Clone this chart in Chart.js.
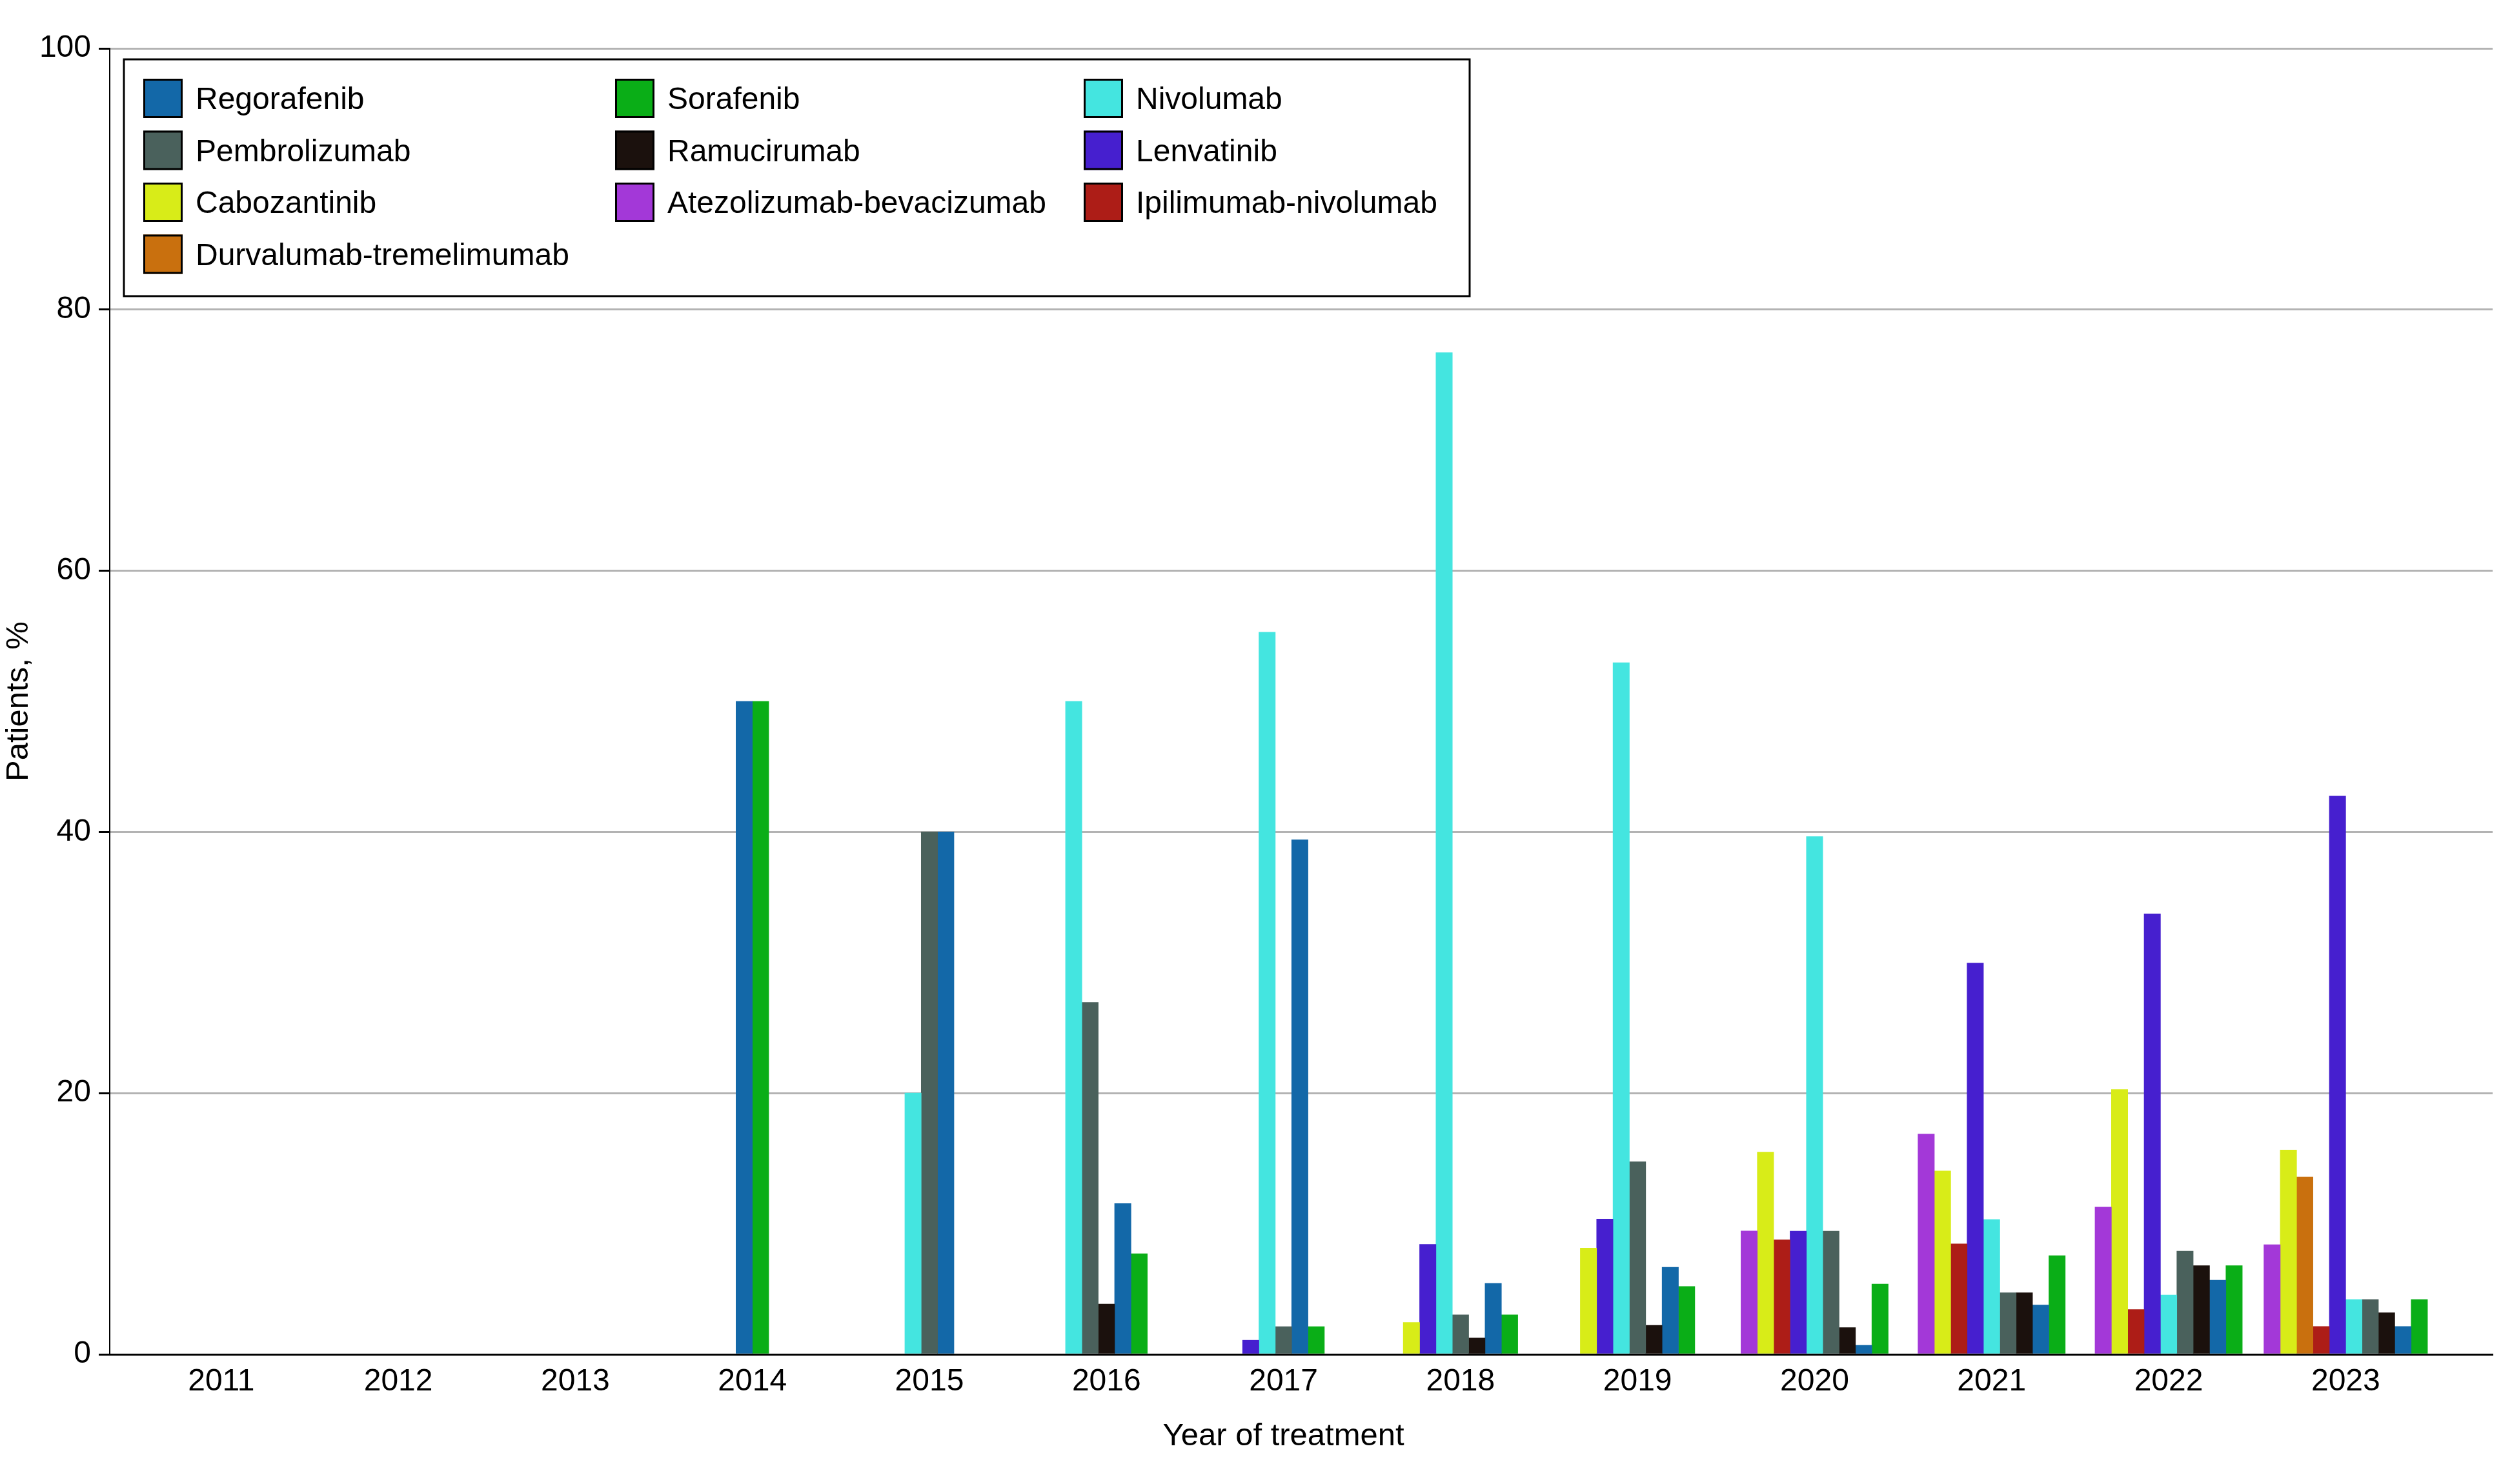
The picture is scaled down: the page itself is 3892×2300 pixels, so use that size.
<!DOCTYPE html>
<html>
<head>
<meta charset="utf-8">
<script src="https://cdn.jsdelivr.net/npm/chart.js@4"></script>
<style>
  html, body { margin: 0; padding: 0; background: #fff; }
</style>
</head>
<body>
<canvas id="chart" width="3892" height="2300"></canvas>
<script>
// years on the x axis
const years = [2011, 2012, 2013, 2014, 2015, 2016, 2017, 2018, 2019, 2020, 2021, 2022, 2023];
const yTicks = [0, 20, 40, 60, 80, 100];

// patients, % per drug and year (null = not given that year)
const atezolizumabBevacizumab = [null, null, null, null, null, null, null, null, null, 9.44, 16.87, 11.27, 8.4];
const cabozantinib = [null, null, null, null, null, null, null, 2.44, 8.14, 15.48, 14.04, 20.28, 15.65];
const durvalumabTremelimumab = [null, null, null, null, null, null, null, null, null, null, null, null, 13.58];
const ipilimumabNivolumab = [null, null, null, null, null, null, null, null, null, 8.77, 8.46, 3.43, 2.13];
const lenvatinib = [null, null, null, null, null, null, 1.08, 8.42, 10.36, 9.43, 29.96, 33.73, 42.75];
const nivolumab = [null, null, null, null, 20, 50, 55.3, 76.7, 52.96, 39.64, 10.32, 4.54, 4.2];
const pembrolizumab = [null, null, null, null, 40, 26.95, 2.12, 3.02, 14.75, 9.43, 4.72, 7.9, 4.2];
const ramucirumab = [null, null, null, null, null, 3.85, null, 1.25, 2.22, 2.05, 4.72, 6.79, 3.18];
const regorafenib = [null, null, null, 50, 40, 11.55, 39.4, 5.43, 6.66, 0.69, 3.77, 5.68, 2.13];
const sorafenib = [null, null, null, 50, null, 7.7, 2.12, 3.02, 5.2, 5.38, 7.55, 6.79, 4.2];

// legend layout: 3 columns, read row by row
const legendRows = [
  ["Regorafenib", "Sorafenib", "Nivolumab"],
  ["Pembrolizumab", "Ramucirumab", "Lenvatinib"],
  ["Cabozantinib", "Atezolizumab-bevacizumab", "Ipilimumab-nivolumab"],
  ["Durvalumab-tremelimumab"]
];

const FONT = "'Liberation Sans', Arial, sans-serif";

function series(label, values, color) {
  return {
    label,
    data: years.map((yr, i) => ({ x: yr, y: values[i] })),
    backgroundColor: color,
    borderWidth: 0
  };
}

const boxLegend = {
  id: "boxLegend",
  afterDraw(chart) {
    const { ctx, chartArea } = chart;
    const left = chartArea.left + 22;
    const top = chartArea.top + 17;
    const colX = [30, 761, 1487];
    ctx.save();
    ctx.fillStyle = "#fff";
    ctx.fillRect(left, top, 2085, 367);
    ctx.lineWidth = 3;
    ctx.strokeStyle = "#000";
    ctx.strokeRect(left, top, 2085, 367);
    ctx.font = "48px " + FONT;
    ctx.textBaseline = "alphabetic";
    ctx.textAlign = "left";
    legendRows.forEach((row, r) => {
      row.forEach((name, c) => {
        const ds = chart.data.datasets.find(d => d.label === name);
        const x = left + colX[c];
        const y = top + 30 + r * 80.5;
        ctx.fillStyle = ds.backgroundColor;
        ctx.fillRect(x, y, 61, 61);
        ctx.lineWidth = 3;
        ctx.strokeStyle = "#000";
        ctx.strokeRect(x + 1.5, y + 1.5, 58, 58);
        ctx.fillStyle = "#000";
        ctx.fillText(name, x + 81, y + 47);
      });
    });

    // x axis title, centred under the year ticks
    const xs = chart.scales.x;
    ctx.textAlign = "center";
    ctx.font = "49px " + FONT;
    ctx.fillText("Year of treatment", xs.getPixelForValue((years[0] + years[years.length - 1]) / 2), 2240);
    ctx.restore();
  }
};

new Chart(document.getElementById("chart").getContext("2d"), {
  type: "bar",
  data: {
    datasets: [
      series("Atezolizumab-bevacizumab", atezolizumabBevacizumab, "#a338d8"),
      series("Cabozantinib", cabozantinib, "#d8ec18"),
      series("Durvalumab-tremelimumab", durvalumabTremelimumab, "#c9700e"),
      series("Ipilimumab-nivolumab", ipilimumabNivolumab, "#ad1d17"),
      series("Lenvatinib", lenvatinib, "#461fcf"),
      series("Nivolumab", nivolumab, "#44e5e0"),
      series("Pembrolizumab", pembrolizumab, "#4a615c"),
      series("Ramucirumab", ramucirumab, "#1b110d"),
      series("Regorafenib", regorafenib, "#1368a8"),
      series("Sorafenib", sorafenib, "#0aae17")
    ]
  },
  options: {
    responsive: false,
    animation: false,
    devicePixelRatio: 1,
    layout: { padding: { top: 75, right: 30, left: 0, bottom: 0 } },
    datasets: {
      bar: { skipNull: true, barThickness: 25.35, grouped: true }
    },
    plugins: {
      legend: { display: false },
      tooltip: { enabled: false }
    },
    scales: {
      x: {
        type: "linear",
        offset: false,
        min: 2010.37,
        max: 2023.83,
        afterBuildTicks: s => { s.ticks = years.map(v => ({ value: v })); },
        grid: { display: false, drawTicks: false, offset: false },
        border: { display: true, color: "#000", width: 3 },
        ticks: {
          color: "#000",
          font: { family: FONT, size: 48 },
          padding: 14,
          maxRotation: 0,
          autoSkip: false,
          callback: v => String(v)
        },
        afterFit(scale) { scale.height = 201; }
      },
      y: {
        min: 0,
        max: 100,
        afterBuildTicks: s => { s.ticks = yTicks.map(v => ({ value: v })); },
        grid: { color: "#b3b3b3", lineWidth: 3, tickColor: "#000", tickLength: 17 },
        border: { display: true, color: "#000", width: 2 },
        ticks: { color: "#000", font: { family: FONT, size: 48 }, padding: 12 },
        title: {
          display: true,
          text: "Patients, %",
          color: "#000",
          font: { family: FONT, size: 49 },
          padding: 0
        },
        afterFit(scale) { scale.width = 170; }
      }
    }
  },
  plugins: [boxLegend]
});
</script>
</body>
</html>
